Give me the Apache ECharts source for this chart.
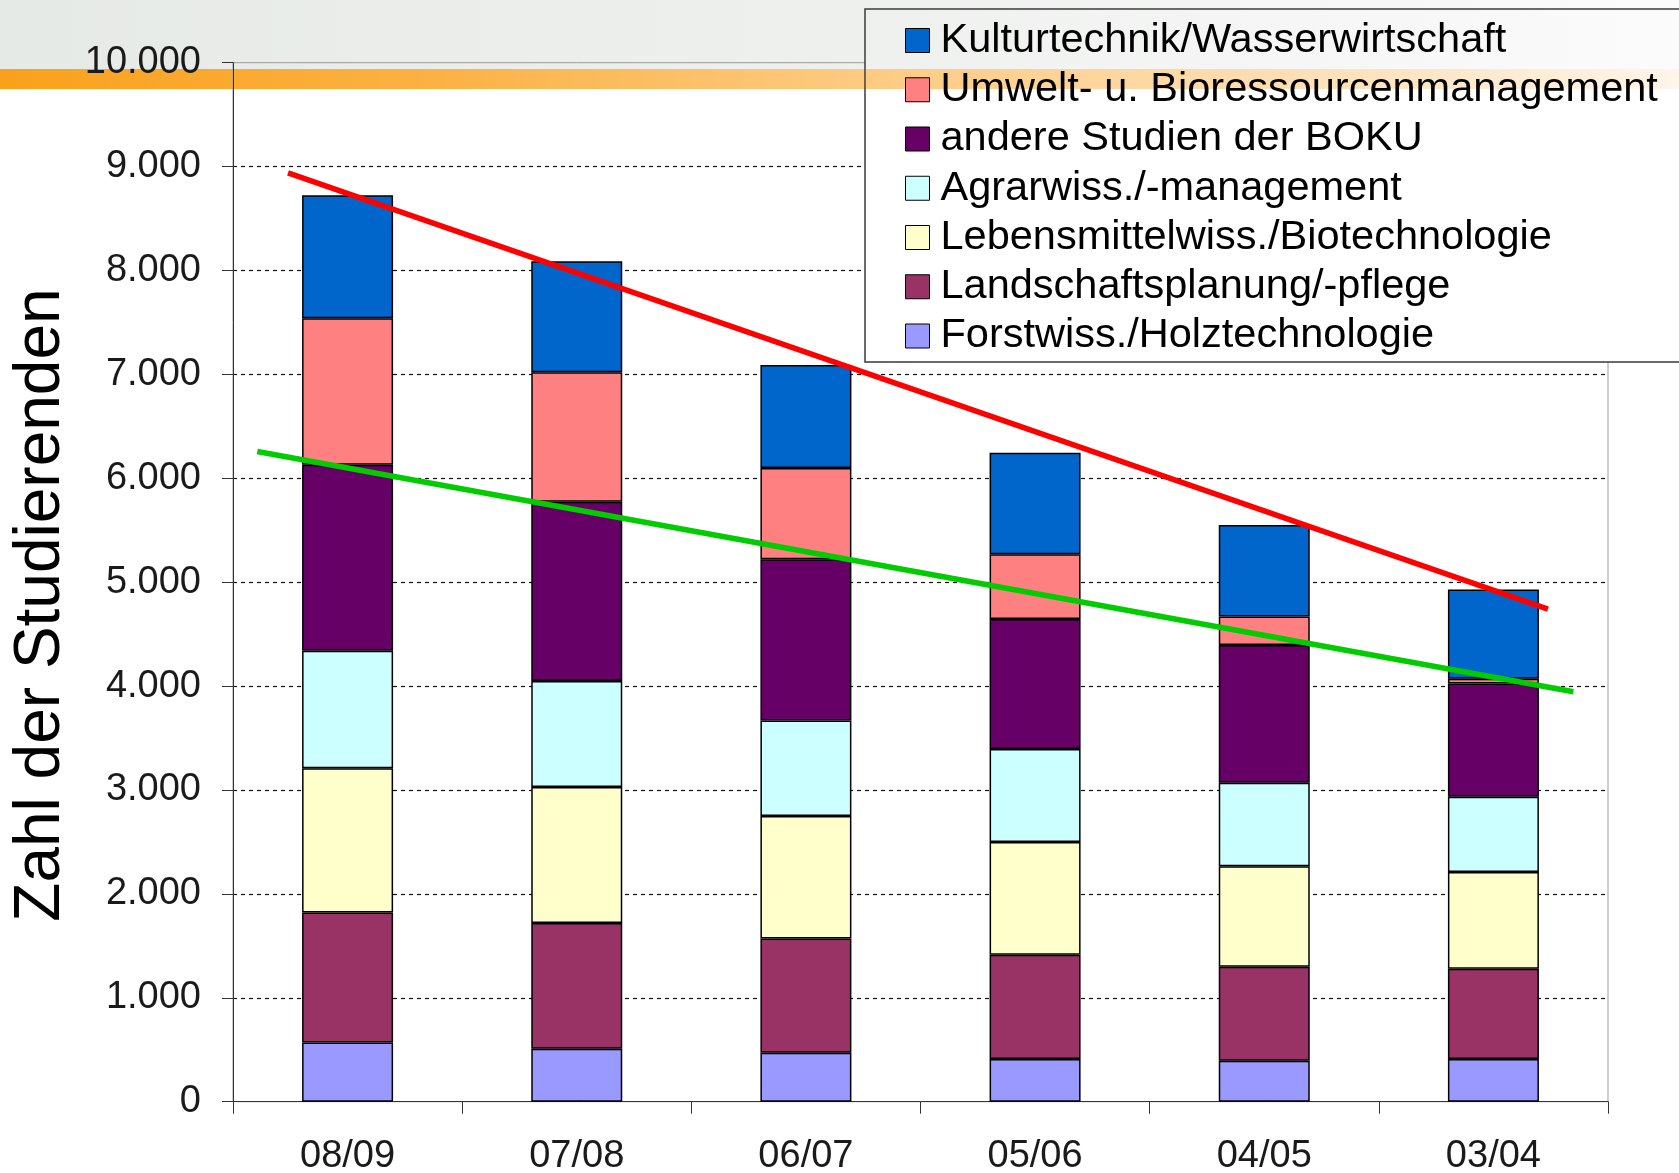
<!DOCTYPE html>
<html>
<head>
<meta charset="utf-8">
<script src="https://cdn.jsdelivr.net/npm/echarts@6/dist/echarts.min.js"></script>
<style>
html,body{margin:0;padding:0;background:#fff;}
#chart{width:1679px;height:1173px;}
</style>
</head>
<body>
<div id="chart"></div>
<script>
// ---- data ----
const categories = ['08/09', '07/08', '06/07', '05/06', '04/05', '03/04'];
const forst        = [570, 510, 470, 410, 395, 410];
const landschaft   = [1250, 1210, 1100, 1005, 905, 870];
const lebensmittel = [1390, 1310, 1180, 1085, 965, 930];
const agrar        = [1130, 1020, 920, 895, 805, 725];
const andere       = [1790, 1725, 1550, 1250, 1325, 1090];
const umwelt       = [1410, 1245, 880, 625, 275, 45];
const kultur       = [1185, 1070, 990, 975, 880, 860];
const seriesNames = [
  'Forstwiss./Holztechnologie',
  'Landschaftsplanung/-pflege',
  'Lebensmittelwiss./Biotechnologie',
  'Agrarwiss./-management',
  'andere Studien der BOKU',
  'Umwelt- u. Bioressourcenmanagement',
  'Kulturtechnik/Wasserwirtschaft'
];
// trend lines: [category position, value]
const redTrend   = [[-0.26, 8940], [5.238, 4740]];
const greenTrend = [[-0.394, 6258], [5.349, 3945]];
const yTicks = [0, 1000, 2000, 3000, 4000, 5000, 6000, 7000, 8000, 9000, 10000];

// ---- styling ----
const FONT = '"Liberation Sans", Arial, sans-serif';
const colors = ['#9999ff', '#993366', '#ffffcc', '#ccffff', '#660066', '#ff8080', '#0066cc'];
const values = [forst, landschaft, lebensmittel, agrar, andere, umwelt, kultur];

function fmtDE(v) {
  return String(v).replace(/\B(?=(\d{3})+(?!\d))/g, '.');
}

const chart = echarts.init(document.getElementById('chart'), null, {renderer: 'canvas'});

const grayGrad = new echarts.graphic.LinearGradient(0, 0, 1679, 0, [
  {offset: 0, color: '#e6eae6'},
  {offset: 0.5, color: '#eef0ee'},
  {offset: 1, color: '#fbfbfb'}
], true);
const orangeGrad = new echarts.graphic.LinearGradient(0, 0, 1679, 0, [
  {offset: 0, color: '#f9a11b'},
  {offset: 0.25, color: '#fbb142'},
  {offset: 0.51, color: '#fdca80'},
  {offset: 0.82, color: '#fde3c0'},
  {offset: 1, color: '#fff5ea'}
], true);

const barSeries = seriesNames.map((name, i) => ({
  name: name,
  type: 'bar',
  stack: 'total',
  barWidth: 91,
  data: values[i],
  itemStyle: {color: colors[i], borderColor: '#000', borderWidth: 1.5},
  emphasis: {disabled: true},
  z: 2
}));

const lineSeries = [
  {name: 'trendRed', type: 'line', xAxisIndex: 1, yAxisIndex: 0, data: redTrend, symbol: 'none',
   lineStyle: {color: '#ff0000', width: 5.5, cap: 'butt'}, z: 3, silent: true, emphasis: {disabled: true}},
  {name: 'trendGreen', type: 'line', xAxisIndex: 1, yAxisIndex: 0, data: greenTrend, symbol: 'none',
   lineStyle: {color: '#00cc00', width: 5.5, cap: 'butt'}, z: 3, silent: true, emphasis: {disabled: true}}
];

const option = {
  backgroundColor: '#ffffff',
  animation: false,
  textStyle: {fontFamily: FONT},
  grid: {left: 233, top: 62.7, right: 71, bottom: 71.3, show: true, containLabel: false,
         outerBoundsMode: 'none',
         borderColor: '#9a9a9a', borderWidth: 1, backgroundColor: 'transparent'},
  xAxis: [
    {type: 'category', data: categories,
     axisLine: {show: true, onZero: false, lineStyle: {color: '#333', width: 1}},
     axisTick: {show: true, length: 12, interval: 0, alignWithLabel: false, lineStyle: {color: '#333'}},
     axisLabel: {color: '#1a1a1a', fontSize: 38, margin: 36, interval: 0, fontFamily: FONT},
     splitLine: {show: false}},
    {type: 'value', min: -0.5, max: 5.5, show: false,
     axisLine: {show: false, onZero: false}, axisTick: {show: false}, axisLabel: {show: false}, splitLine: {show: false}}
  ],
  yAxis: {
    type: 'value', min: yTicks[0], max: yTicks[yTicks.length - 1], interval: 1000,
    axisLine: {show: true, onZero: false, lineStyle: {color: '#333', width: 1}},
    axisTick: {show: true, length: 11, lineStyle: {color: '#333'}},
    axisLabel: {color: '#1a1a1a', fontSize: 38, margin: 32, fontFamily: FONT, padding: [4, 0, 0, 0],
                formatter: v => fmtDE(v)},
    splitLine: {show: true, showMinLine: false, showMaxLine: false,
                lineStyle: {color: '#111', type: [4, 4], width: 1.2}}
  },
  legend: {
    data: seriesNames.slice().reverse(),
    orient: 'vertical', left: 905, top: 18, padding: 0,
    itemGap: 4.25, itemWidth: 24, itemHeight: 24, icon: 'rect',
    selectedMode: false, z: 6,
    textStyle: {fontSize: 41.5, color: '#000', lineHeight: 45, padding: [0, 0, 0, 6], fontFamily: FONT},
    itemStyle: {borderColor: '#000', borderWidth: 1}
  },
  graphic: [
    {type: 'rect', z: -1, silent: true, shape: {x: 0, y: 0, width: 1679, height: 69}, style: {fill: grayGrad}},
    {type: 'rect', z: -1, silent: true, shape: {x: 0, y: 69, width: 1679, height: 20}, style: {fill: orangeGrad}},
    {type: 'rect', z: 3, silent: true, shape: {x: 865, y: 9, width: 900, height: 353},
     style: {fill: '#ffffff', stroke: '#3a3a3a', lineWidth: 1.5}},
    {type: 'rect', z: 4, silent: true, shape: {x: 866, y: 10, width: 820, height: 59}, style: {fill: grayGrad}},
    {type: 'rect', z: 4, silent: true, shape: {x: 866, y: 69, width: 820, height: 20}, style: {fill: orangeGrad}},
    {type: 'text', z: 5, silent: true, x: 41, y: 605, rotation: Math.PI / 2,
     style: {text: 'Zahl der Studierenden', fontSize: 64, fontFamily: FONT, fill: '#000',
             align: 'center', verticalAlign: 'middle', textAlign: 'center', textVerticalAlign: 'middle'}}
  ],
  series: barSeries.concat(lineSeries)
};
chart.setOption(option);
</script>
</body>
</html>
